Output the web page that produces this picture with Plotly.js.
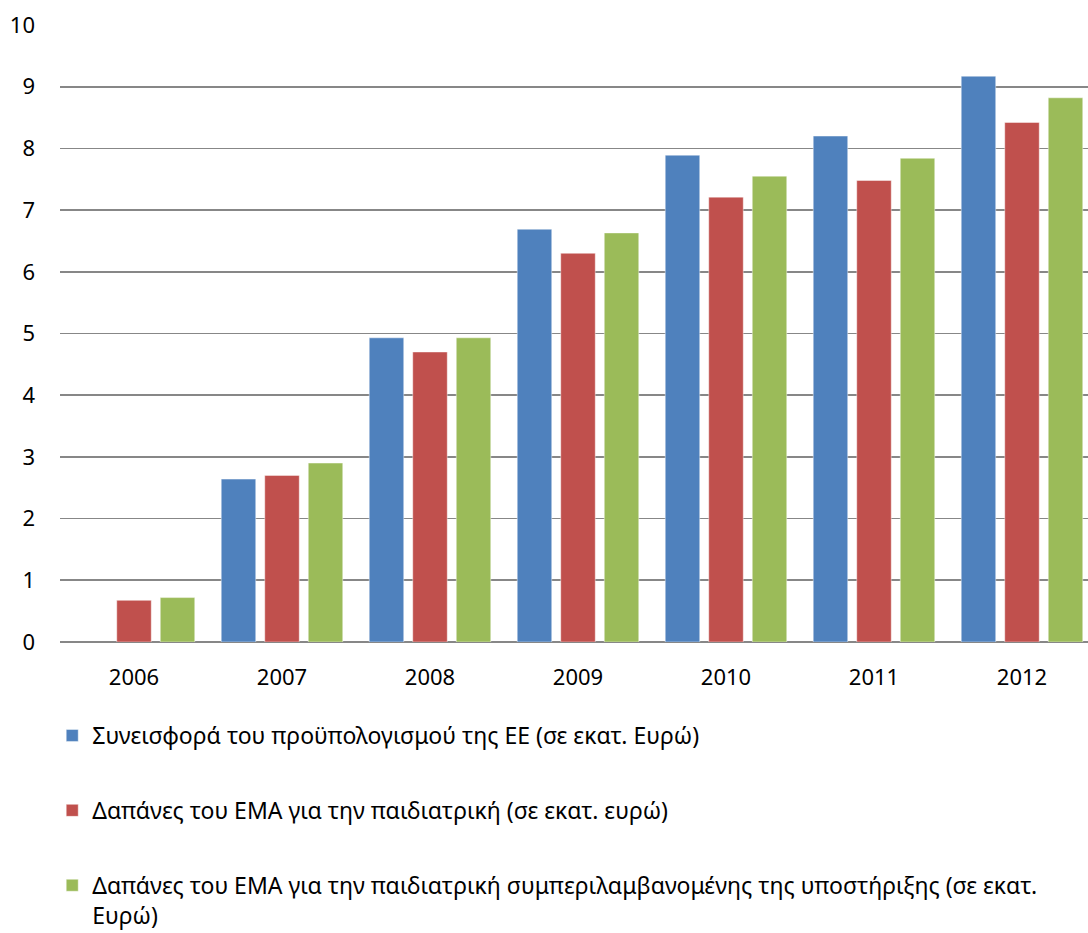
<!DOCTYPE html>
<html>
<head>
<meta charset="utf-8">
<script src="https://cdn.plot.ly/plotly-3.0.1.min.js"></script>
<style>
  html, body { margin: 0; padding: 0; background: #ffffff; }
  #chart { width: 1088px; height: 933px; }
</style>
</head>
<body>
<div id="chart"></div>
<script>
// Years on the category axis
const years = ['2006', '2007', '2008', '2009', '2010', '2011', '2012'];

// EU budget contribution (million EUR); no value for 2006
const euContribution = [null, 2.64, 4.93, 6.69, 7.89, 8.20, 9.17];

// EMA paediatric expenditure (million EUR)
const emaPaediatric = [0.675, 2.70, 4.70, 6.30, 7.21, 7.48, 8.42];

// EMA paediatric expenditure including support (million EUR)
const emaPaediatricSupport = [0.72, 2.90, 4.93, 6.63, 7.55, 7.84, 8.82];

const seriesNames = [
  'Συνεισφορά του προϋπολογισμού της ΕΕ (σε εκατ. Ευρώ)',
  'Δαπάνες του ΕΜΑ για την παιδιατρική (σε εκατ. ευρώ)',
  'Δαπάνες του ΕΜΑ για την παιδιατρική συμπεριλαμβανομένης της υποστήριξης (σε εκατ.<br>Ευρώ)'
];

const yTicks = [0, 1, 2, 3, 4, 5, 6, 7, 8, 9, 10];

const colors = ['#4F81BD', '#C0504D', '#9BBB59'];
const seriesValues = [euContribution, emaPaediatric, emaPaediatricSupport];

const traces = seriesValues.map((vals, i) => ({
  type: 'bar',
  x: years,
  y: vals,
  name: seriesNames[i],
  legendgroup: 'g' + i,
  marker: { color: colors[i], line: { width: 0.8, color: 'rgba(255,255,255,0.55)' } },
  hoverinfo: 'x+y'
}));

const font = 'Noto Sans, Open Sans, sans-serif';

const layout = {
  width: 1088,
  height: 933,
  paper_bgcolor: '#ffffff',
  plot_bgcolor: '#ffffff',
  margin: { l: 60, r: 0, t: 24.5, b: 291, pad: 0, autoexpand: false },
  barmode: 'group',
  bargap: 0.118,
  bargroupgap: 0.207,
  showlegend: true,
  font: { family: font, size: 22, color: '#000000' },
  xaxis: {
    type: 'category',
    range: [-0.5, 6.446],
    showgrid: false,
    showline: false,
    zeroline: false,
    ticks: '',
    tickangle: 0,
    ticklabelstandoff: 20,
    tickfont: { family: font, size: 22, color: '#000000' },
    fixedrange: true
  },
  yaxis: {
    range: [0, 10],
    tickvals: yTicks,
    ticktext: yTicks.map(String),
    showgrid: true,
    gridcolor: '#878787',
    gridwidth: 1.8,
    zeroline: true,
    zerolinecolor: '#878787',
    zerolinewidth: 1.8,
    showline: false,
    ticks: '',
    ticklabelstandoff: 24,
    tickfont: { family: font, size: 22, color: '#000000' },
    fixedrange: true
  },
  legend: {
    orientation: 'v',
    xref: 'container',
    yref: 'container',
    x: 0.048,
    xanchor: 'left',
    y: 1 - 714 / 933,
    yanchor: 'top',
    valign: 'top',
    traceorder: 'grouped',
    tracegroupgap: 42,
    itemclick: false,
    itemdoubleclick: false,
    font: { family: font, size: 23, color: '#000000' },
    bgcolor: 'rgba(0,0,0,0)'
  }
};

Plotly.newPlot('chart', traces, layout, { displayModeBar: false, staticPlot: true });
</script>
</body>
</html>
